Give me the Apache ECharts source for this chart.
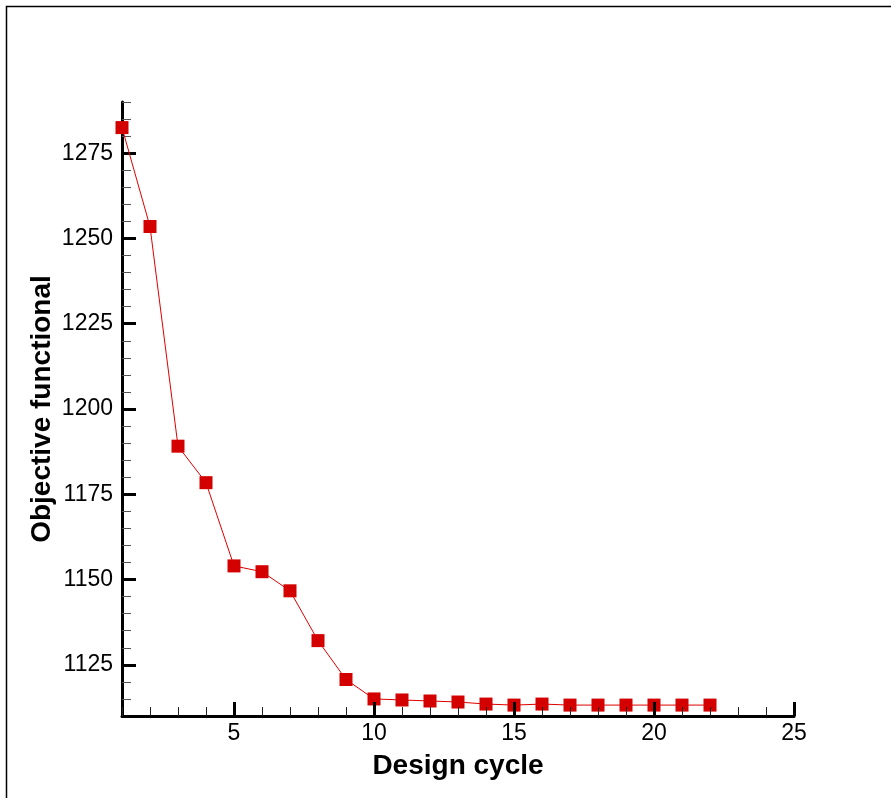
<!DOCTYPE html>
<html>
<head>
<meta charset="utf-8">
<title>Objective functional vs design cycle</title>
<script src="https://cdn.jsdelivr.net/npm/echarts@6/dist/echarts.min.js"></script>
<style>
  html, body { margin: 0; padding: 0; background: #fff; }
  #chart { width: 891px; height: 798px; }
</style>
</head>
<body>
<div id="chart"></div>
<script>
// Design cycles and the objective functional value at each cycle
const cycles = [1, 2, 3, 4, 5, 6, 7, 8, 9, 10, 11, 12, 13, 14, 15, 16, 17, 18, 19, 20, 21, 22];
const objective = [1282.5, 1253.5, 1189.1, 1178.4, 1154.0, 1152.3, 1146.7, 1132.1, 1120.7, 1115.0,
                   1114.7, 1114.4, 1114.1, 1113.5, 1113.2, 1113.5, 1113.2, 1113.2, 1113.2, 1113.2,
                   1113.2, 1113.2];

// Axis ranges and labelled ticks
const xRange = [1, 25];
const yRange = [1110, 1290];
const xMajorTicks = [5, 10, 15, 20, 25];
const yMajorTicks = [1125, 1150, 1175, 1200, 1225, 1250, 1275];
const xMinorStep = 1;
const yMinorStep = 5;

function minorTicks(range, step, majors) {
  const out = [];
  for (let v = range[0]; v <= range[1] + 1e-9; v += step) {
    if (majors.indexOf(v) < 0) out.push(v);
  }
  return out;
}
const xMinorTicks = minorTicks(xRange, xMinorStep, xMajorTicks);
const yMinorTicks = minorTicks(yRange, yMinorStep, yMajorTicks);

const FONT = '"Liberation Sans", Arial, Helvetica, sans-serif';
const plain = (v) => String(v);

const chart = echarts.init(document.getElementById('chart'), null, { renderer: 'canvas' });

chart.setOption({
  animation: false,
  backgroundColor: '#fff',
  graphic: [{
    type: 'rect',
    silent: true,
    shape: { x: 6.5, y: 6.5, width: 1000, height: 1000 },
    style: { fill: 'none', stroke: '#000', lineWidth: 1.5 }
  }],
  grid: { left: 122, right: 97, top: 102, bottom: 82, containLabel: false },
  xAxis: [{
    type: 'value',
    min: xRange[0],
    max: xRange[1],
    position: 'bottom',
    z: 3,
    axisLine: { show: true, onZero: false, lineStyle: { color: '#000', width: 3 } },
    axisTick: { show: true, inside: true, length: 14, customValues: xMajorTicks,
                lineStyle: { color: '#000', width: 3 } },
    axisLabel: { show: true, customValues: xMajorTicks, margin: 6, formatter: plain,
                 color: '#000', fontSize: 23, fontFamily: FONT },
    splitLine: { show: false },
    name: 'Design cycle',
    nameLocation: 'middle',
    nameGap: 36,
    nameMoveOverlap: false,
    nameTextStyle: { color: '#000', fontSize: 28, fontWeight: 'bold', fontFamily: FONT }
  }, {
    type: 'value',
    min: xRange[0],
    max: xRange[1],
    position: 'bottom',
    z: 3,
    axisLine: { show: false, onZero: false },
    axisTick: { show: true, inside: true, length: 9, customValues: xMinorTicks,
                lineStyle: { color: '#222', width: 1 } },
    axisLabel: { show: false },
    splitLine: { show: false }
  }],
  yAxis: [{
    type: 'value',
    min: yRange[0],
    max: yRange[1],
    position: 'left',
    z: 1,
    axisLine: { show: true, onZero: false, lineStyle: { color: '#000', width: 3 } },
    axisTick: { show: true, inside: true, length: 14, customValues: yMajorTicks,
                lineStyle: { color: '#000', width: 3 } },
    axisLabel: { show: true, customValues: yMajorTicks, margin: 9, formatter: plain,
                 color: '#000', fontSize: 23, fontFamily: FONT },
    splitLine: { show: false },
    name: 'Objective functional',
    nameLocation: 'middle',
    nameGap: 66,
    nameMoveOverlap: false,
    nameTextStyle: { color: '#000', fontSize: 28, fontWeight: 'bold', fontFamily: FONT }
  }, {
    type: 'value',
    min: yRange[0],
    max: yRange[1],
    position: 'left',
    z: 1,
    axisLine: { show: false, onZero: false },
    axisTick: { show: true, inside: true, length: 9, customValues: yMinorTicks,
                lineStyle: { color: '#555', width: 1 } },
    axisLabel: { show: false },
    splitLine: { show: false }
  }],
  series: [{
    type: 'line',
    xAxisIndex: 0,
    yAxisIndex: 0,
    z: 2,
    clip: false,
    data: cycles.map((c, i) => [c, objective[i]]),
    symbol: 'rect',
    symbolSize: 13,
    itemStyle: { color: '#d40000' },
    lineStyle: { color: '#e00000', width: 1 }
  }]
});
</script>
</body>
</html>
